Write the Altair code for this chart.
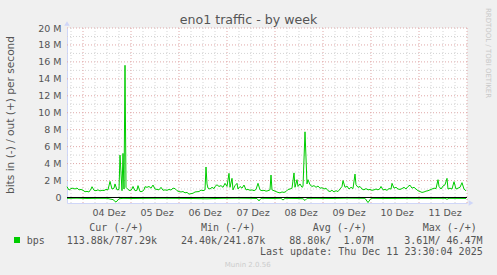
import altair as alt
import pandas as pd
from datetime import datetime, timezone, timedelta

# ---------------- data ----------------
START = datetime(2025, 12, 3, 16, 0, tzinfo=timezone.utc)
END = datetime(2025, 12, 12, 0, 0, tzinfo=timezone.utc)
SLOT = timedelta(minutes=30)

# out (+) traffic: sample slot (30-min steps from START) and value in Mbit/s
out_slot = [0, 2, 4, 6, 8, 10, 12, 14, 16, 18, 20, 22, 24, 25, 27, 29, 31, 33, 35, 37, 39, 41, 43, 45, 47, 48,
            50, 52, 53, 55, 56, 57, 58, 59, 61, 63, 65, 66, 68, 70, 71, 73,
            75, 77, 78, 80, 82, 84, 86, 88, 90, 92, 94, 96, 98, 100, 102, 104, 106, 108, 110, 112, 114, 116,
            118, 120, 122, 124, 126, 128, 130, 132, 134, 136, 138, 139, 140, 141, 143, 145, 147, 148,
            150, 152, 154, 156, 158, 160, 162, 163, 165, 166, 168, 170, 171, 173, 175, 177, 179, 181, 183,
            185, 187, 189, 191, 193, 195, 197, 199, 201, 203, 204, 205, 207, 209, 211, 213, 215, 217, 219,
            221, 223, 225, 227,
            228, 230, 231, 233, 235, 236, 238, 240, 241, 243, 245, 247, 249, 251, 253, 255, 257, 259, 261,
            263, 265, 267, 269, 271, 273, 275, 276, 278, 280, 282, 284, 286, 288, 289, 291, 293, 295, 297,
            299, 301,
            303, 305, 307, 309, 311, 313, 314, 316, 318, 320, 322, 324, 325, 327, 329, 331, 333, 335, 337,
            339, 341, 343, 345, 347, 349, 351, 353, 355, 357, 359, 361, 363, 365, 367, 369, 371, 372, 374,
            376, 378, 380, 381, 383, 385, 387, 389, 391, 393, 395, 397, 399]
out_mbit = [1.27, 0.88, 1.05, 1.1, 1.0, 1.12, 0.9, 0.95, 0.85, 0.68, 0.72, 0.65, 1.0, 1.27, 0.85, 0.8, 0.9, 0.78,
            0.85, 0.82, 0.95, 0.9, 1.9, 1.0, 1.1, 1.6,
            0.9, 0.95, 5.0, 0.8, 5.2, 1.0, 15.6, 1.2, 0.95, 0.8, 1.0, 1.3, 0.8, 0.85, 1.4, 0.7,
            0.7, 0.9, 1.27, 1.2, 1.3, 1.1, 1.47, 1.0, 0.95, 0.9, 1.2, 0.85, 0.9, 0.85, 0.95, 0.88, 1.1, 1.05,
            0.8, 0.7, 0.65, 0.7, 0.55, 0.6, 0.4, 0.45, 0.5, 0.65, 0.68, 0.7, 0.88, 0.8, 0.9, 3.6, 1.6, 1.1,
            1.0, 1.2, 1.05, 1.3,
            1.5, 1.3, 1.4, 1.2, 1.67, 1.3, 2.85, 1.2, 2.26, 0.9, 1.4, 1.67, 1.0, 1.3, 1.1, 1.47, 0.9, 0.95,
            0.85, 0.9, 0.8, 0.95, 1.67, 0.9, 0.8, 0.85, 0.75, 0.8, 0.9, 2.65, 0.9, 0.8, 0.7, 0.6, 0.55, 0.65,
            0.6, 0.7, 0.95, 1.0, 1.1, 2.9,
            1.2, 2.1, 1.3, 1.6, 1.2, 1.3, 7.75, 1.6, 2.1, 1.5, 1.3, 1.4, 1.2, 1.35, 1.1, 1.15, 1.0, 1.1, 0.8,
            0.7, 0.85, 0.65, 0.8, 0.7, 1.0, 1.3, 2.0, 1.2, 1.35, 1.0, 1.2, 1.05, 2.76, 1.5, 1.2, 1.3, 1.0,
            0.9, 1.05, 0.9,
            0.95, 0.85, 0.9, 1.0, 0.9, 1.05, 1.3, 0.9, 0.95, 0.85, 1.05, 1.0, 1.67, 1.1, 1.2, 1.0, 0.95, 1.05,
            1.2, 1.0, 1.3, 1.45, 1.1, 1.2, 1.0, 0.8, 0.7, 0.6, 0.65, 0.75, 0.8, 0.9, 1.0, 1.1, 1.05, 2.1, 1.3,
            1.0, 1.35, 1.5, 2.26, 1.0, 1.1, 1.0, 1.86, 1.0, 1.1, 1.2, 1.75, 1.0, 0.79]

# in (-) traffic, drawn below zero
in_slot = [0, 10, 20, 30, 40, 46, 49, 52, 56, 66, 80, 95, 110, 125, 140, 155, 170, 185, 190, 192, 194, 205,
           214, 216, 218, 230, 236, 238, 240, 250, 265, 280, 298, 301, 304, 320, 340, 360, 378, 380, 382, 399]
in_mbit = [0.1, 0.08, 0.12, 0.1, 0.1, 0.25, 0.55, 0.15, 0.1, 0.12, 0.1, 0.09, 0.1, 0.12, 0.15, 0.1, 0.08, 0.1,
           0.12, 0.4, 0.1, 0.12, 0.1, 0.3, 0.1, 0.12, 0.15, 0.35, 0.1, 0.1, 0.12, 0.08, 0.1, 0.6, 0.1, 0.12,
           0.1, 0.1, 0.1, 0.2, 0.1, 0.11]

day_labels = ["04", "05", "06", "07", "08", "09", "10", "11"]
y_ticks_m = [0, 2, 4, 6, 8, 10, 12, 14, 16, 18, 20]
y_minor_m = [1, 3, 5, 7, 9, 11, 13, 15, 17, 19]

legend_headers = ["Cur (-/+)", "Min (-/+)", "Avg (-/+)", "Max (-/+)"]
legend_values = ["113.88k/787.29k", "24.40k/241.87k", "88.80k/\u00a0\u00a01.07M", "3.61M/\u00a046.47M"]
last_update = "Last update: Thu Dec 11 23:30:04 2025"


def ms(dt):
    return int(dt.timestamp() * 1000)


out_df = pd.DataFrame({"t": [ms(START + s * SLOT) for s in out_slot],
                       "v": [v * 1e6 for v in out_mbit]})
in_df = pd.DataFrame({"t": [ms(START + s * SLOT) for s in in_slot],
                      "v": [-v * 1e6 for v in in_mbit]})

days = [datetime(2025, 12, int(d), tzinfo=timezone.utc) for d in day_labels]
noon_ticks = [ms(d + timedelta(hours=12)) for d in days]
major_v = [ms(d) for d in days] + [ms(END)]
minor_v = []
tt = START + timedelta(hours=2)
while tt < END:
    if tt.hour != 0:
        minor_v.append(ms(tt))
    tt += timedelta(hours=6)

# ---------------- chart ----------------
W, H = 400, 175
PL, PT = 67, 28
xs = alt.Scale(type="utc", domain=[ms(START), ms(END)])
ys = alt.Scale(domain=[-0.65e6, 20e6], nice=False, zero=False)
GREEN = "#00CC00"
AXC = "#CFD6F8"
FONT = "DejaVu Sans"
MONO = "DejaVu Sans Mono"
TXT = "#555555"

X_AX = alt.Axis(values=noon_ticks, labelExpr="utcFormat(datum.value, '%d') + ' Dez'",
                grid=False, ticks=False, domainColor=AXC, domainWidth=1, title=None,
                labelFont=FONT, labelFontSize=9.5, labelColor=TXT, labelPadding=4,
                labelOffset=1.5)
Y_AX = alt.Axis(values=[m * 1e6 for m in y_ticks_m],
                labelExpr="datum.value == 0 ? '0' : format(datum.value / 1000000, 'd') + ' M'",
                grid=False, ticks=False, domainColor=AXC, domainWidth=1, title=None,
                labelFont=FONT, labelFontSize=9.5, labelColor=TXT, labelPadding=6)

hmin = alt.Chart(pd.DataFrame({"v": [m * 1e6 for m in y_minor_m]})).mark_rule(
    color="#D4D4D4", strokeDash=[1, 2], strokeWidth=1).encode(y=alt.Y("v:Q", scale=ys, axis=Y_AX))
hmaj = alt.Chart(pd.DataFrame({"v": [m * 1e6 for m in y_ticks_m[1:]]})).mark_rule(
    color="#E0A8A8", strokeDash=[1, 2], strokeWidth=1).encode(y=alt.Y("v:Q", scale=ys, axis=Y_AX))
vmin = alt.Chart(pd.DataFrame({"t": minor_v})).mark_rule(
    color="#D4D4D4", strokeDash=[1, 2], strokeWidth=1).encode(x=alt.X("t:T", scale=xs, axis=X_AX))
vmaj = alt.Chart(pd.DataFrame({"t": major_v})).mark_rule(
    color="#E0A8A8", strokeDash=[1, 2], strokeWidth=1).encode(x=alt.X("t:T", scale=xs, axis=X_AX))

in_line = alt.Chart(in_df).mark_line(color=GREEN, strokeWidth=1).encode(
    x=alt.X("t:T", scale=xs, axis=X_AX), y=alt.Y("v:Q", scale=ys, axis=Y_AX))
zero = alt.Chart(pd.DataFrame({"z": [0]})).mark_rule(color="black", strokeWidth=1).encode(
    y=alt.Y("z:Q", scale=ys, axis=Y_AX))
out_line = alt.Chart(out_df).mark_line(color=GREEN, strokeWidth=1).encode(
    x=alt.X("t:T", scale=xs, axis=X_AX), y=alt.Y("v:Q", scale=ys, axis=Y_AX))


def txt(s, x, y, size=10, font=FONT, color=TXT, align="left", angle=0, baseline="alphabetic"):
    return alt.Chart(pd.DataFrame({"s": [s]})).mark_text(
        font=font, fontSize=size, color=color, align=align, angle=angle, baseline=baseline
    ).encode(text="s:N", x=alt.value(x - PL), y=alt.value(y - PT))


texts = [
    txt("eno1 traffic - by week", 248.5, 24.3, size=12.6, color="#555555", align="center"),
    txt("bits in (-) / out (+) per second", 10.5, 115, size=10.6, angle=270, align="center",
        baseline="middle"),
    txt("RRDTOOL / TOBI OETIKER", 488.3, 53, size=7, color="#C8C8C8", angle=90, align="center",
        baseline="middle"),
    txt("bps", 26.7, 243.5, font=MONO),
]
for h, x in zip(legend_headers, [89.3, 201.0, 312.7, 422.7]):
    texts.append(txt(h, x, 231.3, font=MONO))
for v, x in zip(legend_values, [66.7, 181.0, 289.3, 404.3]):
    texts.append(txt(v, x, 243.5, font=MONO))
texts.append(txt(last_update, 482.7, 254.5, font=MONO, align="right"))
texts.append(txt("Munin 2.0.56", 247.7, 266.8, size=7, color="#CCCCCC", align="center"))

swatch = alt.Chart(pd.DataFrame({"s": ["bps"]})).mark_square(
    color=GREEN, size=36, opacity=1).encode(x=alt.value(17 - PL), y=alt.value(240 - PT))
arrow_x = alt.Chart(pd.DataFrame({"s": ["x"]})).mark_point(
    shape="triangle-right", filled=True, color=AXC, size=30, opacity=1).encode(
    x=alt.value(471 - PL), y=alt.value(H))
arrow_y = alt.Chart(pd.DataFrame({"s": ["y"]})).mark_point(
    shape="triangle-up", filled=True, color=AXC, size=30, opacity=1).encode(
    x=alt.value(0), y=alt.value(23.5 - PT))

chart = alt.layer(hmin, hmaj, vmin, vmaj, in_line, zero, out_line, swatch, arrow_x, arrow_y, *texts).properties(
    width=W, height=H,
    autosize=alt.AutoSizeParams(type="none"),
    padding={"left": PL, "top": PT, "right": 497 - PL - W, "bottom": 275 - PT - H},
    background="#F0F0F0",
).configure_view(fill="#FFFFFF", strokeWidth=0)

chart.save("out.html", embed_options={"renderer": "svg", "actions": False})
